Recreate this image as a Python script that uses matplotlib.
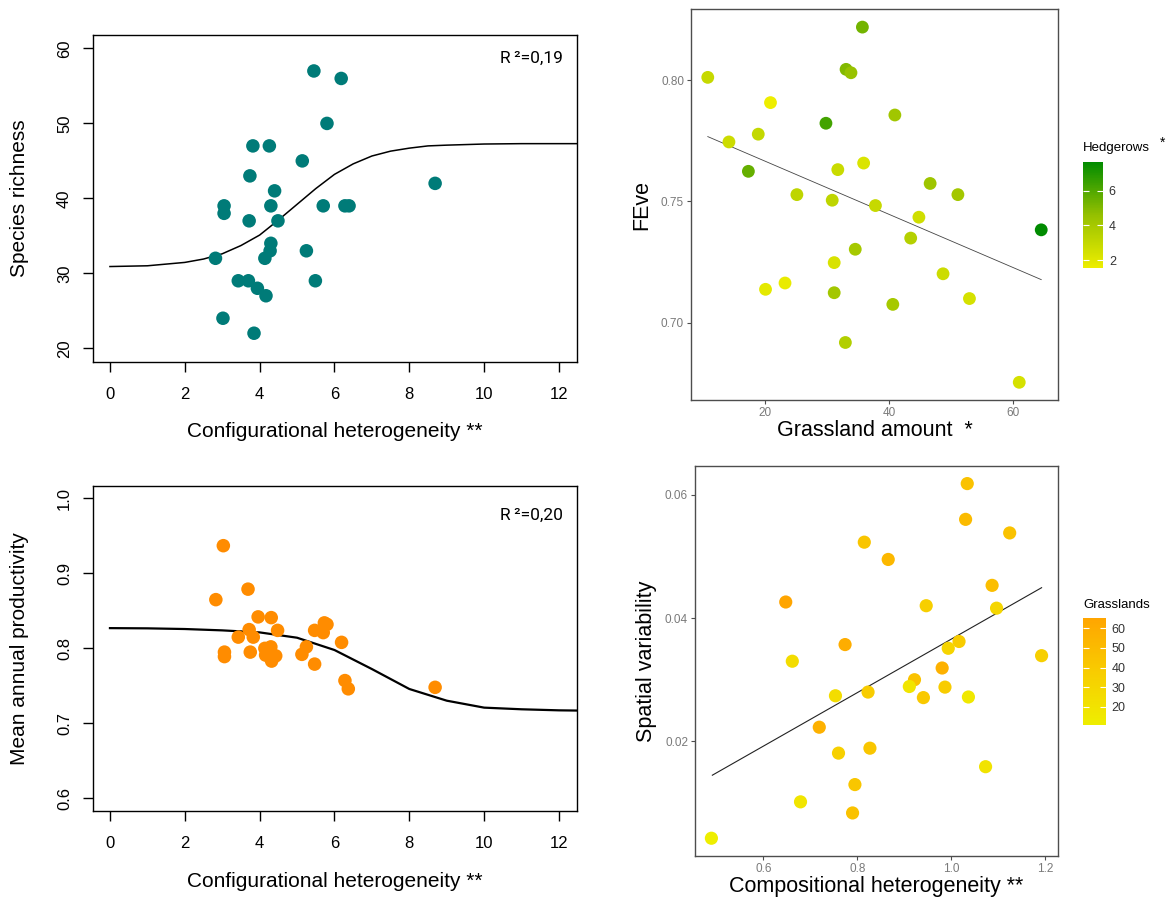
import matplotlib
matplotlib.use("Agg")
import matplotlib.pyplot as plt
from matplotlib.colors import LinearSegmentedColormap, Normalize

plt.rcParams["font.family"] = ["Liberation Sans", "DejaVu Sans"]
NARROW = ["Liberation Sans Narrow", "Roboto", "DejaVu Sans"]

# --- top left: species richness vs configurational heterogeneity
conf_top = [5.45, 6.18, 5.80, 3.82, 4.26, 5.14, 3.74, 8.69, 4.40, 3.05,
            3.05, 4.30, 5.70, 6.28, 6.39, 3.72, 4.49, 4.30, 4.28, 5.25,
            4.14, 2.82, 3.43, 3.70, 5.49, 3.94, 4.17, 3.02, 3.85]
richness = [57, 56, 50, 47, 47, 45, 43, 42, 41, 39,
            38, 39, 39, 39, 39, 37, 37, 34, 33, 33,
            32, 32, 29, 29, 29, 28, 27, 24, 22]
rich_curve_x = [0, 1, 2, 2.5, 3, 3.5, 4, 4.5, 5, 5.5, 6, 6.5, 7, 7.5, 8, 8.5,
                9, 10, 11, 12, 12.5]
rich_fit = [30.9, 31.0, 31.45, 31.9, 32.6, 33.7, 35.1, 37.1, 39.2, 41.3, 43.2,
            44.6, 45.65, 46.3, 46.7, 47.0, 47.1, 47.25, 47.3, 47.3, 47.3]

# --- bottom left: productivity vs configurational heterogeneity
conf_bot = [3.03, 3.69, 2.83, 3.96, 4.31, 5.73, 5.80, 3.72, 4.48, 5.47,
            5.70, 3.83, 3.43, 6.19, 5.25, 4.14, 4.30, 3.06, 3.06, 3.75,
            4.16, 4.43, 4.32, 5.13, 5.47, 6.28, 6.37, 8.69, 4.27]
productivity = [0.937, 0.879, 0.865, 0.842, 0.841, 0.834, 0.832, 0.825, 0.824, 0.824,
                0.821, 0.815, 0.815, 0.808, 0.802, 0.800, 0.802, 0.795, 0.789, 0.795,
                0.791, 0.790, 0.783, 0.792, 0.779, 0.757, 0.746, 0.748, 0.796]
prod_curve_x = [0, 1, 2, 3, 4, 5, 6, 7, 8, 9, 10, 11, 12, 12.5]
prod_fit = [0.827, 0.8267, 0.8258, 0.824, 0.8213, 0.8142, 0.7978, 0.7724, 0.7458,
            0.7302, 0.7209, 0.7187, 0.7173, 0.717]

# --- top right: FEve vs grassland amount, coloured by hedgerows
grassland = [10.8, 35.7, 33.07, 33.86, 20.9, 40.93, 29.83, 18.93, 14.21, 17.34,
             35.9, 31.74, 46.61, 25.15, 51.08, 30.84, 37.8, 44.8, 64.5, 43.48,
             34.55, 31.16, 48.69, 23.24, 20.1, 31.16, 52.94, 40.6, 32.96, 60.96]
feve = [0.8011, 0.8218, 0.8044, 0.8030, 0.7907, 0.7856, 0.7822, 0.7777, 0.7745, 0.7624,
        0.7658, 0.7631, 0.7574, 0.7528, 0.7528, 0.7505, 0.7483, 0.7435, 0.7383, 0.7349,
        0.7303, 0.7248, 0.7202, 0.7164, 0.7138, 0.7124, 0.7100, 0.7076, 0.6919, 0.6755]
hedgerows = [2.9, 5.3, 5.0, 4.5, 1.52, 4.2, 6.3, 3.0, 2.7, 5.6,
             2.2, 2.8, 4.3, 3.2, 4.1, 3.2, 2.9, 2.6, 7.68, 3.5,
             4.0, 2.3, 2.7, 1.7, 1.9, 4.1, 2.4, 4.0, 3.6, 2.4]
feve_fit_x = [10.8, 64.5]
feve_fit_y = [0.7767, 0.7178]

# --- bottom right: spatial variability vs compositional heterogeneity
compo = [1.0345, 1.031, 1.125, 0.815, 0.866, 1.0875, 0.6475, 0.947, 1.097, 0.774,
         1.017, 0.994, 1.193, 0.6615, 0.981, 0.922, 0.911, 0.987, 0.823, 0.7535,
         0.941, 1.037, 0.719, 0.827, 0.760, 1.0736, 0.795, 0.679, 0.790, 0.489]
spatvar = [0.0618, 0.0560, 0.0538, 0.0523, 0.0495, 0.0453, 0.0426, 0.0420, 0.0416, 0.0357,
           0.0362, 0.0351, 0.0339, 0.0330, 0.0319, 0.0300, 0.0289, 0.0288, 0.0280, 0.0274,
           0.0271, 0.0272, 0.0223, 0.0189, 0.0181, 0.0159, 0.0130, 0.0102, 0.0084, 0.0043]
grasslands = [45, 50, 45, 43, 52, 48, 65.4, 36, 30, 60,
              38, 32, 36, 25, 57, 45, 18, 38, 38, 24,
              40, 16, 57, 42, 35, 20, 42, 18, 45, 10.7]
spat_fit_x = [0.491, 1.193]
spat_fit_y = [0.01452, 0.04492]

fig = plt.figure(figsize=(11.71, 9.02), dpi=100)


def base_r_axes(ax):
    for sp in ax.spines.values():
        sp.set_linewidth(1.0)
        sp.set_color("black")
    ax.tick_params(length=7, width=1, labelsize=12, pad=11)
    ax.tick_params(axis="y", pad=8)
    for lab in ax.get_yticklabels():
        lab.set_rotation(90)
        lab.set_va("center")


# top left
ax1 = fig.add_axes([0.0792, 0.599, 0.4138, 0.3622])
ax1.scatter(conf_top, richness, s=95, color="#007b78", edgecolors="none", zorder=3)
ax1.plot(rich_curve_x, rich_fit, color="black", lw=1.1)
ax1.set_xlim(-0.46, 12.49)
ax1.set_ylim(18.2, 61.8)
ax1.set_xticks(range(0, 13, 2))
ax1.set_yticks(range(20, 61, 10))
base_r_axes(ax1)
ax1.set_xlabel("Configurational heterogeneity **", fontsize=15)
ax1.xaxis.set_label_coords(0.5, -0.215)
ax1.xaxis.label.set_va("center")
ax1.set_ylabel("Species richness", fontsize=15)
ax1.yaxis.set_label_coords(-0.151, 0.5)
ax1.yaxis.label.set_va("center")
ax1.text(0.97, 0.93, "R\u2009²=0,19", transform=ax1.transAxes, ha="right", va="center",
         fontsize=12.5, family=NARROW)

# bottom left
ax3 = fig.add_axes([0.0792, 0.1009, 0.4138, 0.3606])
ax3.scatter(conf_bot, productivity, s=95, color="#ff8c00", edgecolors="none", zorder=3)
ax3.plot(prod_curve_x, prod_fit, color="black", lw=1.6)
ax3.set_xlim(-0.46, 12.49)
ax3.set_ylim(0.583, 1.017)
ax3.set_xticks(range(0, 13, 2))
ax3.set_yticks([0.6, 0.7, 0.8, 0.9, 1.0])
ax3.set_yticklabels(["0.6", "0.7", "0.8", "0.9", "1.0"])
base_r_axes(ax3)
ax3.set_xlabel("Configurational heterogeneity **", fontsize=15)
ax3.xaxis.set_label_coords(0.5, -0.218)
ax3.xaxis.label.set_va("center")
ax3.set_ylabel("Mean annual productivity", fontsize=15)
ax3.yaxis.set_label_coords(-0.151, 0.5)
ax3.yaxis.label.set_va("center")
ax3.text(0.97, 0.91, "R\u2009²=0,20", transform=ax3.transAxes, ha="right", va="center",
         fontsize=12.5, family=NARROW)


def gg_axes(ax):
    for sp in ax.spines.values():
        sp.set_linewidth(1.0)
        sp.set_color("#4d4d4d")
    ax.tick_params(length=3, width=0.8, color="#4d4d4d", labelsize=8.5,
                   labelcolor="#7a7a7a", pad=2)


hedge_cmap = LinearSegmentedColormap.from_list("hedge", ["#eeee00", "#95c000", "#008b00"])
grass_cmap = LinearSegmentedColormap.from_list("grass", ["#eeee00", "#f8cc00", "#ffa500"])

# top right
ax2 = fig.add_axes([0.5901, 0.5565, 0.3134, 0.4331])
hnorm = Normalize(min(hedgerows), max(hedgerows))
sc2 = ax2.scatter(grassland, feve, c=hedgerows, cmap=hedge_cmap, norm=hnorm, s=85,
                  edgecolors="none", zorder=3)
ax2.plot(feve_fit_x, feve_fit_y, color="#444444", lw=0.6, zorder=2)
ax2.set_xlim(8.1, 67.2)
ax2.set_ylim(0.6682, 0.8291)
ax2.set_xticks([20, 40, 60])
ax2.set_yticks([0.70, 0.75, 0.80])
ax2.set_yticklabels(["0.70", "0.75", "0.80"])
gg_axes(ax2)
ax2.set_xlabel("Grassland amount  *", fontsize=15.5, labelpad=1)
ax2.set_ylabel("FEve", fontsize=15.5, labelpad=6)

cax2 = fig.add_axes([0.9246, 0.7025, 0.0176, 0.1182])
cb2 = fig.colorbar(sc2, cax=cax2, ticks=[2, 4, 6])
cb2.outline.set_visible(False)
cax2.tick_params(color="white", direction="in", length=4, width=0.8, labelsize=9,
                 labelcolor="#333333", left=True, right=True, pad=4)
fig.text(0.9246, 0.836, "Hedgerows", fontsize=9.5, ha="left", va="center")
fig.text(0.993, 0.842, "*", fontsize=10, ha="center", va="center")

# bottom right
ax4 = fig.add_axes([0.5935, 0.051, 0.3100, 0.4327])
gnorm = Normalize(min(grasslands), max(grasslands))
sc4 = ax4.scatter(compo, spatvar, c=grasslands, cmap=grass_cmap, norm=gnorm, s=90,
                  edgecolors="none", zorder=3)
ax4.plot(spat_fit_x, spat_fit_y, color="#222222", lw=0.8, zorder=2)
ax4.set_xlim(0.454, 1.228)
ax4.set_ylim(0.00142, 0.0647)
ax4.set_xticks([0.6, 0.8, 1.0, 1.2])
ax4.set_xticklabels(["0.6", "0.8", "1.0", "1.2"])
ax4.set_yticks([0.02, 0.04, 0.06])
ax4.set_yticklabels(["0.02", "0.04", "0.06"])
gg_axes(ax4)
ax4.set_xlabel("Compositional heterogeneity **", fontsize=15.5, labelpad=1)
ax4.set_ylabel("Spatial variability", fontsize=15.5, labelpad=6)

cax4 = fig.add_axes([0.9251, 0.1962, 0.0191, 0.119])
cb4 = fig.colorbar(sc4, cax=cax4, ticks=[20, 30, 40, 50, 60])
cb4.outline.set_visible(False)
cax4.tick_params(color="white", direction="in", length=4, width=0.8, labelsize=9,
                 labelcolor="#333333", left=True, right=True, pad=4)
fig.text(0.9251, 0.329, "Grasslands", fontsize=9.5, ha="left", va="center")

fig.savefig("out.png", dpi=100)
